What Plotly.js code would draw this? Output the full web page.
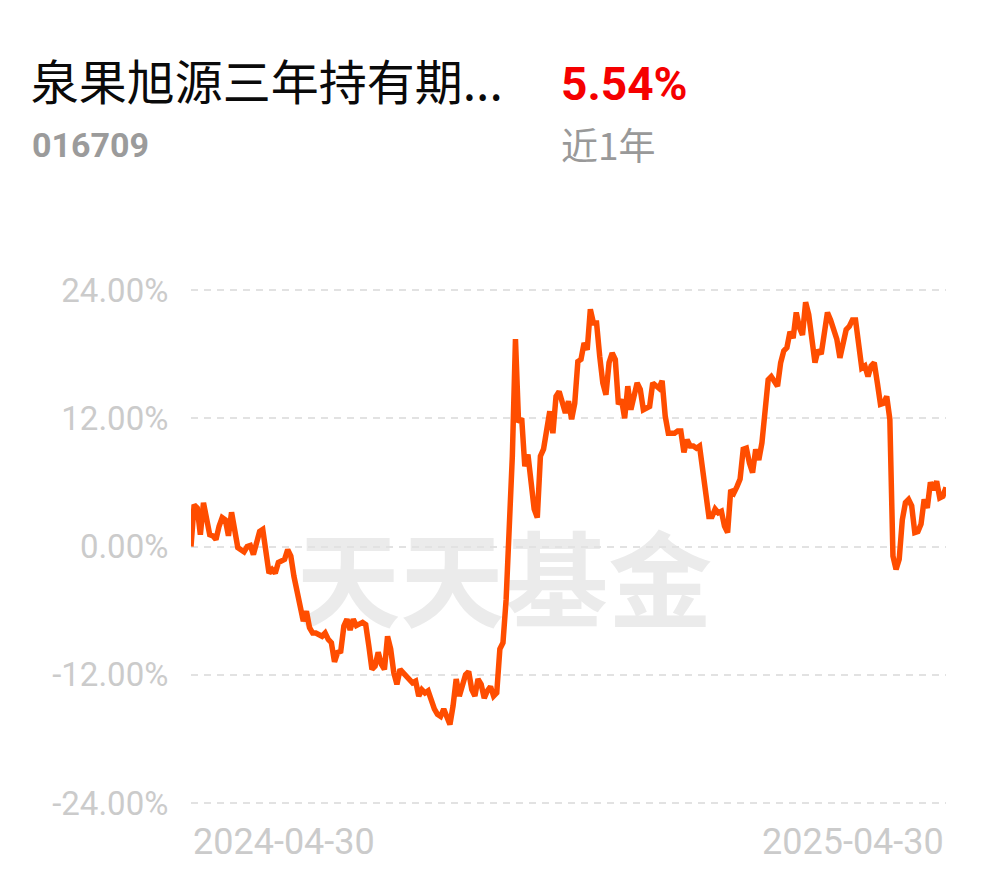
<!DOCTYPE html>
<html>
<head>
<meta charset="utf-8">
<script src="https://cdn.plot.ly/plotly-3.0.1.min.js"></script>
<style>
html,body{margin:0;padding:0;background:#fff;}
#chart{width:990px;height:878px;}
</style>
</head>
<body>
<div id="chart"></div>
<script>
// Trading-day index (0 = 2024-04-30, 242 = 2025-04-30)
const dayIndex = [0,1,2,3,4,5,6,7,8,9,10,11,12,13,14,15,16,17,18,19,20,21,22,23,24,25,26,27,28,30,31,32,33,34,35,36,37,38,39,40,42,43,44,45,46,47,48,49,50,51,52,53,55,56,57,58,59,60,61,62,63,64,65,66,67,68,69,70,71,72,73,74,75,76,77,78,79,80,81,82,83,84,85,86,87,88,89,90,91,92,93,94,95,96,97,98,99,100,101,102,103,104,105,106,107,108,109,110,111,112,113,114,115,116,117,118,119,120,121,122,123,124,125,126,127,128,129,130,131,132,133,134,135,136,137,138,139,140,141,143,144,145,147,148,150,151,152,153,155,156,157,158,159,160,161,162,163,164,165,166,167,168,169,170,171,172,173,174,175,176,177,178,179,180,181,182,183,184,185,186,187,188,189,190,191,192,193,194,195,196,197,198,200,201,202,203,204,205,206,207,208,210,211,212,213,214,215,216,217,218,219,220,221,222,223,224,225,226,227,228,229,230,231,232,233,234,235,236,237,238,239,240,241,242];
// Cumulative return (%)
const returnPct = [0,3.9,3.6,1.1,4.1,2.2,1.1,1.0,0.65,1.9,2.7,2.5,1.0,3.2,1.6,-0.1,-0.3,-0.5,0,0.1,-0.75,0.2,1.4,1.6,-0.3,-2.5,-2.15,-2.5,-1.5,-1.2,-0.3,-0.9,-2.8,-4.3,-5.9,-7.0,-6.05,-7.6,-8.1,-8.1,-8.4,-8.1,-8.7,-9.0,-10.8,-9.9,-9.8,-7.45,-6.8,-7.8,-6.8,-7.4,-7.1,-7.3,-9.3,-11.5,-11.2,-9.9,-11.0,-11.5,-8.4,-9.6,-11.8,-12.9,-11.5,-11.8,-12.1,-12.4,-12.75,-12.6,-14.0,-13.4,-13.7,-13.5,-14.6,-15.2,-15.7,-15.9,-15.2,-16.0,-16.65,-14.9,-12.4,-14.0,-12.75,-12.0,-11.7,-13.4,-14.0,-12.4,-12.9,-14.2,-13.5,-13.1,-14.0,-13.7,-9.6,-9.0,-5.0,1.75,8.45,19.4,11.6,12.0,7.5,8.6,5.6,3.5,2.7,8.45,9.1,10.9,12.65,10.6,14.05,14.5,13.4,12.5,13.6,11.9,13.4,17.3,17.5,19.05,18.4,22.2,20.9,20.9,17.8,15.3,14.2,17.2,18.1,17.5,13.3,13.75,12.0,15.0,12.8,15.3,14.7,12.8,13.1,15.3,14.8,15.5,12.2,10.6,10.6,10.8,10.8,8.8,10.0,9.4,9.4,9.2,9.4,7.2,4.7,2.8,2.8,3.5,3.15,3.3,1.9,1.3,5.3,5.0,5.6,6.3,9.1,9.2,7.8,6.9,9.1,8.1,9.7,12.5,15.6,15.9,15.5,15.0,17.2,18.3,18.6,20.1,19.5,21.9,20.5,19.8,22.85,21.7,17.2,18.4,18.0,20.0,21.9,21.2,20.1,19.4,17.65,20.3,20.6,21.2,21.2,18.7,16.7,16.9,15.9,16.9,17.2,15.3,13.3,13.4,14.05,11.9,-0.9,-2.15,-1.2,2.5,4.1,4.4,3.8,1.3,1.4,2.1,4.4,3.6,6.0,5.3,6.1,4.55,4.7,5.54];

const yTickVals = [-24,-12,0,12,24];
const yTickText = ['-24.00%','-12.00%','0.00%','12.00%','24.00%'];
const xTickLabels = ['2024-04-30','2025-04-30'];
const fundName = '泉果旭源三年持有期...';
const fundCode = '016709';
const periodReturn = '5.54%';
const periodLabel = '近1年';
const watermark = '天天基金';

const trace = {
  x: dayIndex, y: returnPct, type: 'scatter', mode: 'lines',
  line: {color: '#ff4d00', width: 5.5, shape: 'linear'},
  hoverinfo: 'skip'
};

const num = 'Roboto, sans-serif';
const cjk = '"Noto Sans CJK SC", "Noto Sans", sans-serif';

const layout = {
  width: 990, height: 878,
  margin: {l: 191, r: 44, t: 287, b: 72},
  paper_bgcolor: '#ffffff', plot_bgcolor: '#ffffff',
  showlegend: false,
  title: {
    text: fundName, xref: 'container', yref: 'container',
    x: 0.031, xanchor: 'left', y: 0.905, yanchor: 'middle',
    font: {family: cjk, size: 48, color: '#0a0a0a'}
  },
  xaxis: {
    range: [dayIndex[0], dayIndex[dayIndex.length-1]],
    showgrid: false, zeroline: false, showline: false,
    showticklabels: false, ticks: '', fixedrange: true
  },
  yaxis: {
    range: [-24.28, 24.28], tickvals: yTickVals, ticktext: yTickText,
    showgrid: true, gridcolor: '#e2e2e2', gridwidth: 2, griddash: '7px,6px',
    zeroline: false, showline: false,
    ticks: 'outside', ticklen: 15, tickcolor: 'rgba(0,0,0,0)',
    tickfont: {family: num, size: 33, color: '#cbcbcb'},
    fixedrange: true
  },
  shapes: [{
    type: 'rect', xref: 'paper', yref: 'paper', layer: 'below',
    x0: 0.12, x1: 0.71, y0: 0.28, y1: 0.545,
    line: {width: 0}, fillcolor: 'rgba(0,0,0,0)',
    label: {text: watermark, textposition: 'middle center',
            font: {family: cjk, size: 104, color: '#ebebeb', weight: 'bold'}}
  }],
  annotations: [
    {text: periodReturn, xref: 'paper', yref: 'paper', x: 0.4874, y: 1.3911,
     xanchor: 'left', yanchor: 'middle', showarrow: false,
     font: {family: num, size: 46, color: '#f50000', weight: 'bold'}},
    {text: fundCode, xref: 'paper', yref: 'paper', x: -0.2135, y: 1.2736,
     xanchor: 'left', yanchor: 'middle', showarrow: false,
     font: {family: num, size: 34, color: '#9b9b9b', weight: 'bold'}},
    {text: periodLabel, xref: 'paper', yref: 'paper', x: 0.4874, y: 1.2755,
     xanchor: 'left', yanchor: 'middle', showarrow: false,
     font: {family: cjk, size: 37, color: '#999999'}},
    {text: xTickLabels[0], xref: 'x', yref: 'paper', x: dayIndex[0], y: 0, yshift: -36,
     xanchor: 'left', yanchor: 'middle', showarrow: false,
     font: {family: num, size: 36, color: '#cbcbcb'}},
    {text: xTickLabels[1], xref: 'x', yref: 'paper', x: dayIndex[dayIndex.length-1], y: 0, yshift: -36,
     xanchor: 'right', yanchor: 'middle', showarrow: false,
     font: {family: num, size: 36, color: '#cbcbcb'}}
  ]
};

Plotly.newPlot('chart', [trace], layout, {displayModeBar: false, staticPlot: true});
</script>
</body>
</html>
